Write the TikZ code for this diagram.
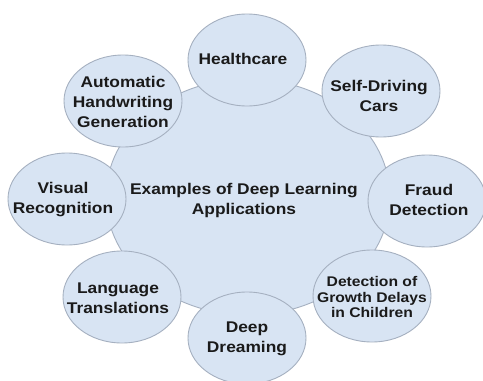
\documentclass[tikz,border=0pt]{standalone}
\usepackage{fontspec}
\setmainfont{Liberation Sans}[FakeStretch=1.12]
\usetikzlibrary{shapes.geometric}
\definecolor{bubblefill}{RGB}{216,228,243}
\definecolor{bubbleline}{RGB}{165,176,192}
\definecolor{labelink}{RGB}{26,26,26}
\begin{document}
\begin{tikzpicture}[x=1pt,y=-1pt,
  bubble/.style={ellipse, draw=bubbleline, fill=bubblefill, line width=0.9pt,
    inner sep=0pt, minimum width=118pt, minimum height=92pt},
  hub/.style={bubble, minimum width=284pt, minimum height=236pt},
  caption/.style={align=center, text=labelink, inner sep=0pt,
    font=\fontsize{15.5}{20}\selectfont\bfseries},
  smallcaption/.style={caption, font=\fontsize{14}{15.5}\selectfont\bfseries}]
\clip (0,0) rectangle (483,381);
\fill[white] (0,0) rectangle (483,381);

% central bubble
\node[hub] (hub) at (248,197) {};

% surrounding bubbles
\node[bubble] (health)  at (247,60)  {};
\node[bubble] (car)     at (381,91)  {};
\node[bubble] (hand)    at (123,101) {};
\node[bubble] (visual)  at (67,199)  {};
\node[bubble] (fraud)   at (427,201) {};
\node[bubble] (growth)  at (372,296) {};
\node[bubble] (lang)    at (122,297) {};
\node[bubble] (dream)   at (247,338) {};

% labels
\node[caption] (thub)    at (244,200) {Examples of Deep Learning\\Applications};
\node[caption] (thealth) at (243,59)  {Healthcare};
\node[caption] (tcar)    at (379,96)  {Self-Driving\\Cars};
\node[caption] (thand)   at (123,102) {Automatic\\Handwriting\\Generation};
\node[caption] (tvisual) at (63,200)  {Visual\\Recognition};
\node[caption] (tfraud)  at (429,200) {Fraud\\Detection};
\node[smallcaption] (tgrowth) at (372,297) {Detection of\\Growth Delays\\in Children};
\node[caption] (tlang)   at (118,298) {Language\\Translations};
\node[caption] (tdream)  at (247,339) {Deep\\Dreaming};
\end{tikzpicture}
\end{document}
